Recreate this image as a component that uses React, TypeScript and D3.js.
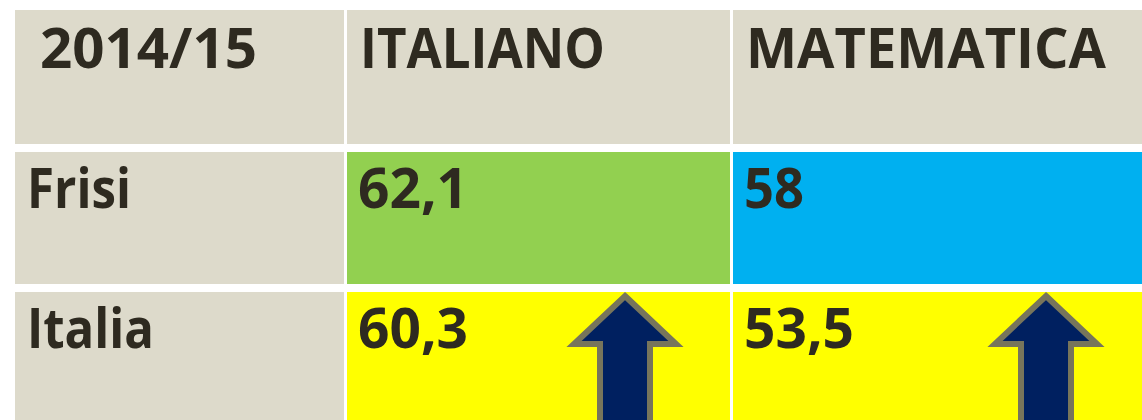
import React from "react";
import * as d3 from "d3";

// ---- data ----
const yearLabel = "2014/15";
const subjects = ["ITALIANO", "MATEMATICA"];
const rowLabels = ["Frisi", "Italia"];
const italiano = [62.1, 60.3];
const matematica = [58, 53.5];
const trendUp = [false, true]; // arrow shown on row

// ---- layout ----
const W = 1142;
const H = 420;
const colEdges: [number, number][] = [
  [15, 344],
  [347, 730],
  [733, 1142],
];
const rowEdges: [number, number][] = [
  [10, 144],
  [152, 284],
  [292, 420],
];
const arrowCenters = [625, 1046];

const GRAY = "#DDDACB";
const TEXT = "#2E2A20";
const subjectFill = [
  ["#92D050", "#FFFF00"],
  ["#00B0F0", "#FFFF00"],
];

const locale = d3.formatLocale({ decimal: ",", thousands: ".", grouping: [3], currency: ["€", ""] });
const fmt = locale.format(".1~f");

const FONT = "'Open Sans', 'DejaVu Sans', sans-serif";
const FS = 55;

export default function App() {
  const values = [italiano, matematica];
  const x = (c: number) => colEdges[c][0];
  const w = (c: number) => colEdges[c][1] - colEdges[c][0];
  const y = (r: number) => rowEdges[r][0];
  const h = (r: number) => rowEdges[r][1] - rowEdges[r][0];

  const arrowPts: [number, number][] = [
    [0, 4],
    [51, 52],
    [25, 52],
    [25, 150],
    [-25, 150],
    [-25, 52],
    [-51, 52],
    [0, 4],
  ];
  const line = d3.line().curve(d3.curveLinearClosed);

  const cells: React.ReactNode[] = [];
  // header row
  cells.push(<rect key="h0" x={x(0)} y={y(0)} width={w(0)} height={h(0)} fill={GRAY} />);
  cells.push(
    <text key="ht0" x={x(0) + 25} y={y(0) + 58} fontFamily={FONT} fontWeight={700} fontSize={FS} fill={TEXT} textLength={217} lengthAdjust="spacingAndGlyphs">
      {yearLabel}
    </text>
  );
  subjects.forEach((s, i) => {
    const c = i + 1;
    cells.push(<rect key={"h" + c} x={x(c)} y={y(0)} width={w(c)} height={h(0)} fill={GRAY} />);
    cells.push(
      <text key={"ht" + c} x={x(c) + 13} y={y(0) + 58} fontFamily={FONT} fontWeight={700} fontSize={FS} fill={TEXT} textLength={i === 0 ? 245 : 360} lengthAdjust="spacingAndGlyphs">
        {s}
      </text>
    );
  });
  rowLabels.forEach((lab, ri) => {
    const r = ri + 1;
    cells.push(<rect key={"r" + r} x={x(0)} y={y(r)} width={w(0)} height={h(r)} fill={GRAY} />);
    cells.push(
      <text key={"rt" + r} x={x(0) + 12} y={y(r) + 56} fontFamily={FONT} fontWeight={700} fontSize={FS} fill={TEXT} textLength={ri === 0 ? 104 : 127} lengthAdjust="spacingAndGlyphs">
        {lab}
      </text>
    );
    values.forEach((vals, si) => {
      const c = si + 1;
      const label = fmt(vals[ri]);
      cells.push(<rect key={"c" + r + c} x={x(c)} y={y(r)} width={w(c)} height={h(r)} fill={subjectFill[si][ri]} />);
      cells.push(
        <text key={"ct" + r + c} x={x(c) + 11} y={y(r) + 56} fontFamily={FONT} fontWeight={700} fontSize={FS} fill={TEXT} textLength={label.length === 2 ? 60 : label.length * 27.5} lengthAdjust="spacingAndGlyphs">
          {label}
        </text>
      );
      if (trendUp[ri]) {
        cells.push(
          <path
            key={"a" + r + c}
            transform={`translate(${arrowCenters[si]},${y(r)})`}
            d={line(arrowPts) || ""}
            fill="#002060"
            stroke="#77755B"
            strokeWidth={6}
            strokeLinejoin="miter"
          />
        );
      }
    });
  });

  return (
    <div style={{ position: "fixed", left: 0, top: 0 }}>
      <svg width={W} height={H} style={{ display: "block", background: "#fff" }}>
        {cells}
      </svg>
    </div>
  );
}
